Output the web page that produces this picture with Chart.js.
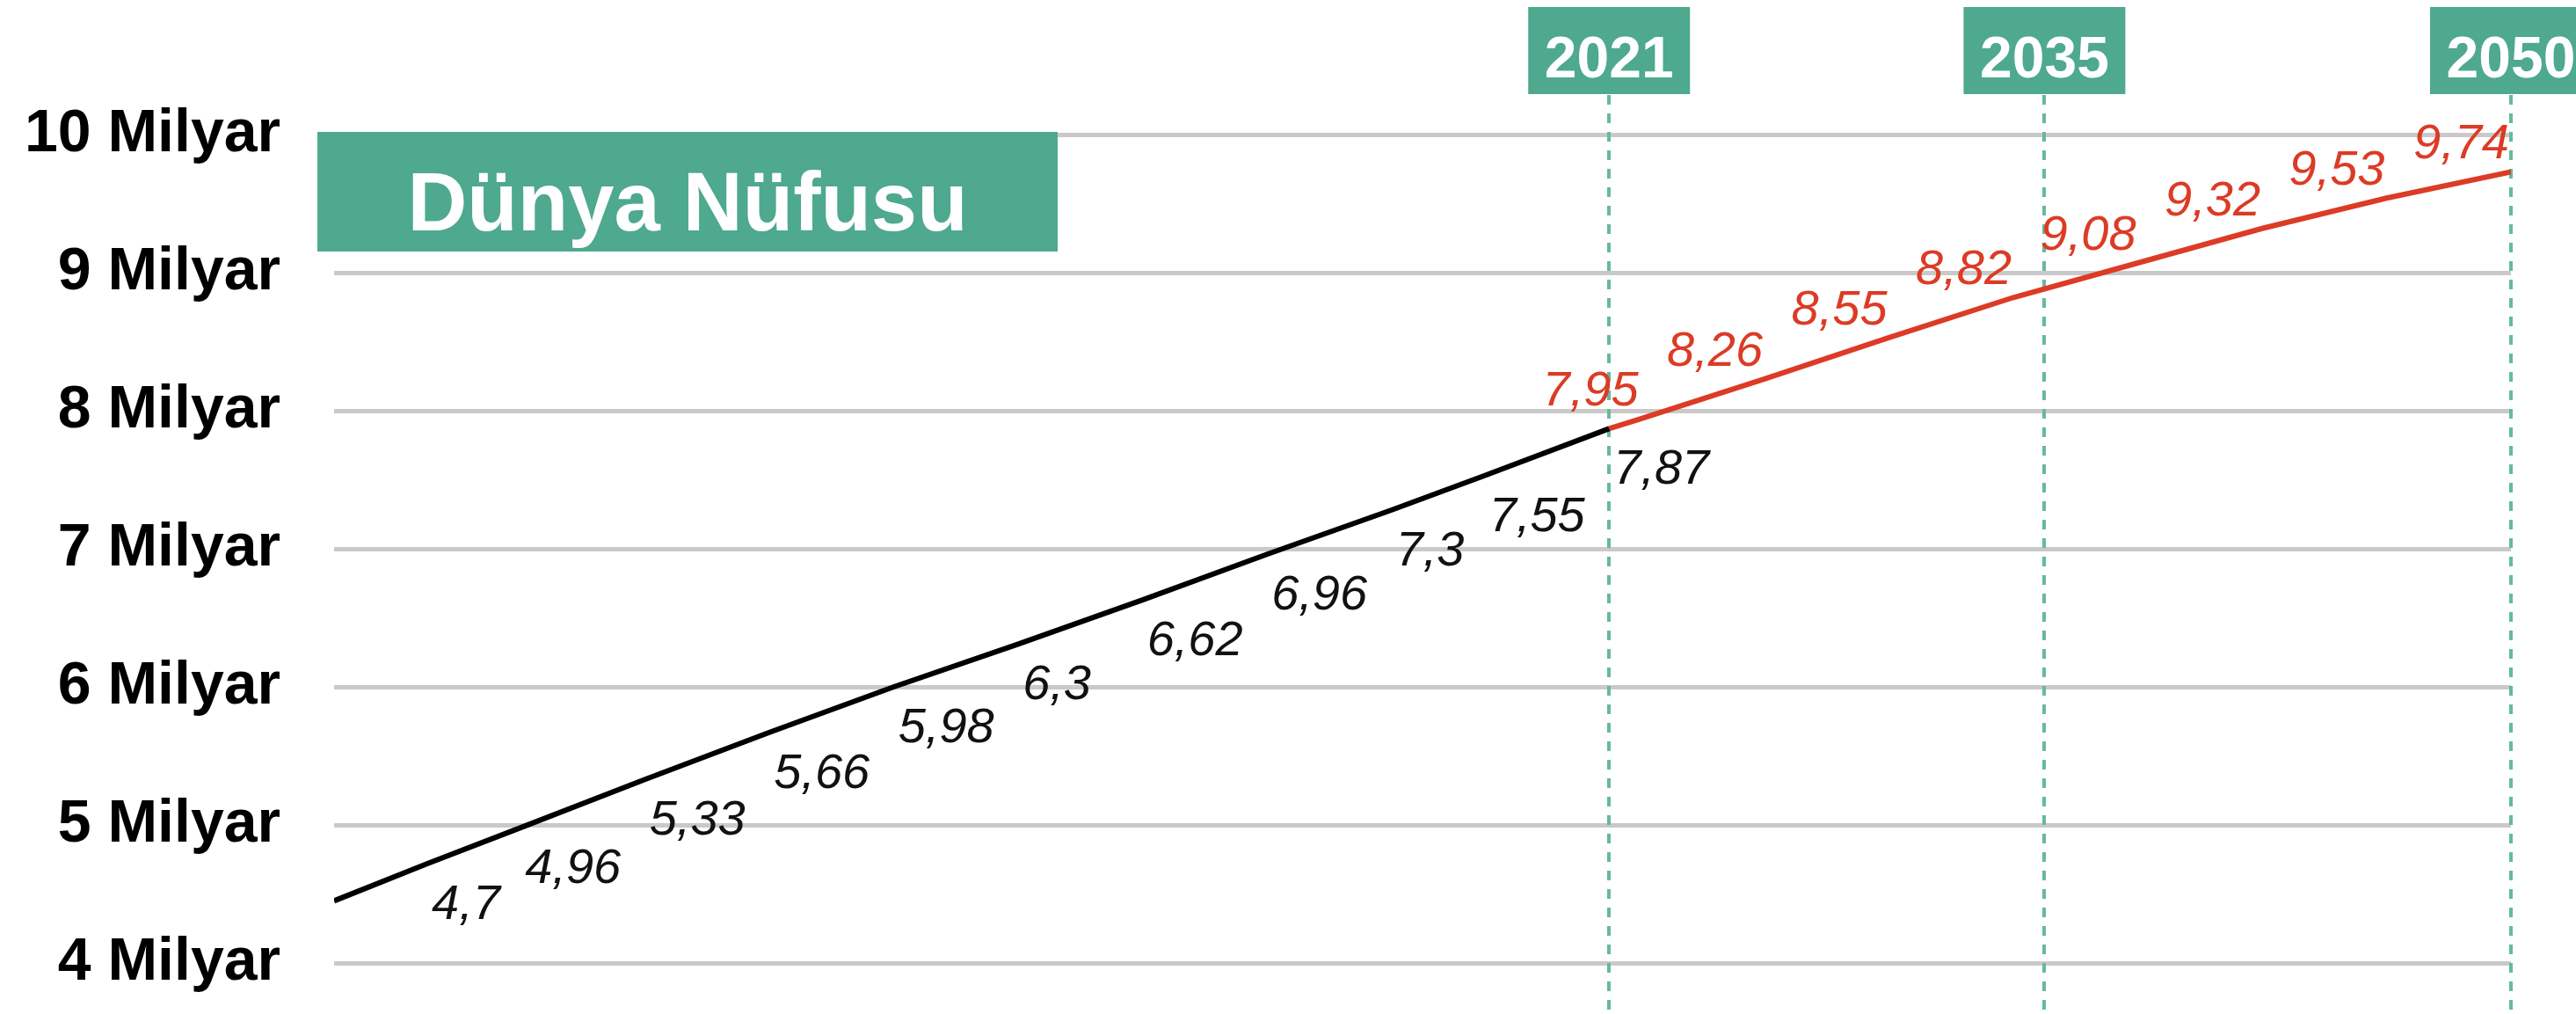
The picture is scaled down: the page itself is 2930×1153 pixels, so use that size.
<!DOCTYPE html>
<html><head><meta charset="utf-8">
<script src="https://cdn.jsdelivr.net/npm/chart.js@4.4.1/dist/chart.umd.min.js"></script>
<style>html,body{margin:0;padding:0;background:#fff;overflow:hidden}canvas{display:block}</style>
</head><body>
<canvas id="c" width="2930" height="1153"></canvas>
<script>
// ---- data ----
const blackYears  = [1980, 1983, 1986, 1990, 1994, 1998, 2002, 2006, 2010, 2014, 2017, 2021];
const blackValues = [4.45, 4.72, 4.98, 5.33, 5.67, 6.0, 6.31, 6.63, 6.96, 7.28, 7.53, 7.87];
const blackLabels = ["", "4,7", "4,96", "5,33", "5,66", "5,98", "6,3", "6,62", "6,96", "7,3", "7,55", "7,87"];
const redYears    = [2022, 2026, 2030, 2034, 2038, 2042, 2046, 2050];
const redValues   = [7.94, 8.23, 8.53, 8.82, 9.07, 9.32, 9.54, 9.73];
const redLabels   = ["7,95", "8,26", "8,55", "8,82", "9,08", "9,32", "9,53", "9,74"];
const yTicks      = [4, 5, 6, 7, 8, 9, 10];
const tickSuffix  = " Milyar";
const markerYears = [2021, 2035, 2050];
const titleText   = "Dünya Nüfusu";

// ---- styles ----
const TEAL = '#4ea98e';
const DASH = '#66b9a0';
const RED = '#dc3b25';
const FONT = '"Liberation Sans", Arial, Helvetica, sans-serif';

const blackData = blackYears.map((yr, i) => ({x: yr, y: blackValues[i]}));
const redData = [{x: blackYears[blackYears.length - 1], y: blackValues[blackValues.length - 1]}]
  .concat(redYears.map((yr, i) => ({x: yr, y: redValues[i]})));

const deco = {
  id: 'deco',
  beforeDatasetsDraw(chart) {
    const {ctx, scales: {x, y}, chartArea} = chart;
    ctx.save();
    // vertical dashed marker lines
    ctx.strokeStyle = DASH;
    ctx.lineWidth = 4;
    ctx.setLineDash([11, 10]);
    markerYears.forEach(yr => {
      const px = Math.round(x.getPixelForValue(yr));
      ctx.beginPath();
      ctx.moveTo(px, 108);
      ctx.lineTo(px, chart.height);
      ctx.stroke();
    });
    ctx.setLineDash([]);
    // title box
    const bx = chartArea.left - 19, by = y.getPixelForValue(10) - 3;
    ctx.fillStyle = TEAL;
    ctx.fillRect(bx, by, 842, 136);
    ctx.fillStyle = '#fff';
    ctx.font = 'bold 94px ' + FONT;
    ctx.textAlign = 'center';
    ctx.textBaseline = 'alphabetic';
    ctx.fillText(titleText, bx + 421, by + 112);
    ctx.restore();
  },
  afterDatasetsDraw(chart) {
    const {ctx, scales: {x, y}} = chart;
    ctx.save();
    // year boxes
    markerYears.forEach(yr => {
      const px = x.getPixelForValue(yr);
      ctx.fillStyle = TEAL;
      ctx.fillRect(px - 92, 8, 184, 99);
      ctx.fillStyle = '#fff';
      ctx.font = 'bold 66px ' + FONT;
      ctx.textAlign = 'center';
      ctx.textBaseline = 'alphabetic';
      ctx.fillText(String(yr), px, 88);
    });
    // value labels
    ctx.font = 'italic 56px ' + FONT;
    ctx.textBaseline = 'alphabetic';
    ctx.fillStyle = '#111';
    ctx.textAlign = 'left';
    blackYears.forEach((yr, i) => {
      if (!blackLabels[i]) return;
      const px = x.getPixelForValue(yr), py = y.getPixelForValue(blackValues[i]);
      ctx.fillText(blackLabels[i], px + 5, py + 63);
    });
    ctx.fillStyle = RED;
    ctx.textAlign = 'right';
    redYears.forEach((yr, i) => {
      const px = x.getPixelForValue(yr), py = y.getPixelForValue(redValues[i]);
      ctx.fillText(redLabels[i], px - 2, py - 15);
    });
    ctx.restore();
  }
};

new Chart(document.getElementById('c'), {
  type: 'line',
  data: {
    datasets: [
      {data: blackData, borderColor: '#000', borderWidth: 6, pointRadius: 0, tension: 0, fill: false, borderCapStyle: 'butt'},
      {data: redData, borderColor: RED, borderWidth: 6, pointRadius: 0, tension: 0, fill: false, borderCapStyle: 'butt'}
    ]
  },
  options: {
    responsive: false,
    animation: false,
    devicePixelRatio: 1,
    layout: {padding: {top: 153, bottom: 58, left: 0, right: 74}},
    plugins: {legend: {display: false}, tooltip: {enabled: false}},
    scales: {
      x: {type: 'linear', min: 1980, max: 2050, display: false},
      y: {
        min: yTicks[0], max: yTicks[yTicks.length - 1],
        afterBuildTicks(axis) { axis.ticks = yTicks.map(v => ({value: v})); },
        afterFit(axis) { axis.width = 380; axis.paddingTop = 0; axis.paddingBottom = 0; },
        border: {display: false},
        grid: {color: '#c9c9c9', lineWidth: 5, drawTicks: false},
        ticks: {
          padding: 61,
          color: '#000',
          font: {family: FONT, size: 68, weight: 'bold'},
          callback: v => v + tickSuffix
        }
      }
    }
  },
  plugins: [deco]
});
</script>
</body></html>
